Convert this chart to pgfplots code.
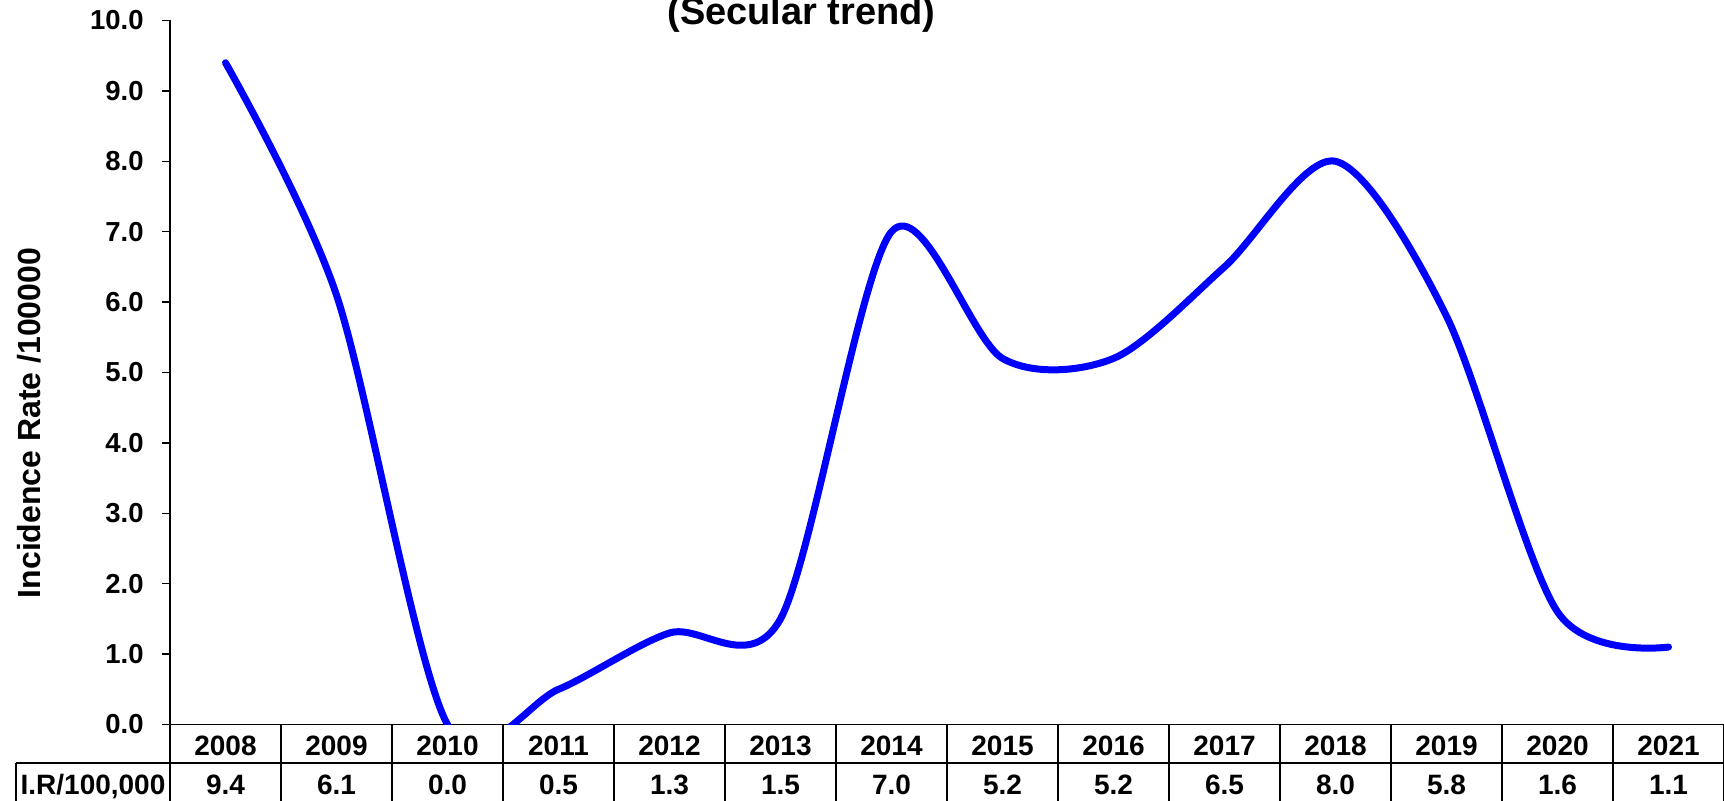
\documentclass[border=0pt]{standalone}
\usepackage{fontspec}
\setmainfont{Liberation Sans}
\usepackage{pgfplots}
\usepackage{pgfplotstable}
\pgfplotsset{compat=1.18}

% incidence rate per 100,000 by year
\pgfplotstableread{
idx year ir
0 2008 9.4
1 2009 6.1
2 2010 0.0
3 2011 0.5
4 2012 1.3
5 2013 1.5
6 2014 7.0
7 2015 5.2
8 2016 5.2
9 2017 6.5
10 2018 8.0
11 2019 5.8
12 2020 1.6
13 2021 1.1
}\irdata

\begin{document}
\begin{tikzpicture}[x=1pt,y=1pt]
\path[use as bounding box] (0,0) rectangle (862,-400.5);
\begin{axis}[
    at={(85pt,-362.25pt)}, anchor=south west,
    width=777pt, height=352pt, scale only axis,
    xmin=-0.5, xmax=13.5, ymin=0, ymax=10,
    axis lines*=left,
    axis line style={black, line width=0.65pt},
    tick align=outside, major tick length=4pt,
    tick style={black, line width=0.65pt},
    ytick={0,...,10},
    yticklabel style={/pgf/number format/fixed, /pgf/number format/fixed zerofill,
        /pgf/number format/precision=1, /pgf/number format/assume math mode=true,
        anchor=east, inner sep=0pt, xshift=-9pt},
    ticklabel style={font=\fontsize{13.75}{16}\selectfont\bfseries},
    xtick={0,...,13},
    xticklabels from table={\irdata}{year},
    xtick style={draw=none},
    xticklabel style={anchor=center, inner sep=0pt, yshift=-6.5pt, font=\fontsize{14}{16}\selectfont\bfseries},
    extra x ticks={0,...,13},
    extra x tick style={
        xticklabel={\pgfplotstablegetelem{\ticknum}{ir}\of\irdata\pgfplotsretval},
        xticklabel style={yshift=-19.75pt},
        tick style={draw=none}},
]
\addplot[color={rgb,255:red,0;green,0;blue,255}, line width=3.5pt, smooth, tension=0.5,
    line cap=round, line join=round] table[x=idx, y=ir] {\irdata};
\end{axis}

% data table grid
\foreach \k in {0,...,14}
    \draw[line width=0.75pt] (85+55.5*\k,-362.25) -- (85+55.5*\k,-401);
\draw[line width=0.75pt] (8,-381.5) -- (862,-381.5);
\draw[line width=0.75pt] (8,-381.5) -- (8,-401);
\node[font=\fontsize{14}{16}\selectfont\bfseries, inner sep=0pt, anchor=base] at (46.5,-397) {I.R/100,000};

\node[font=\fontsize{19}{22}\selectfont\bfseries, anchor=base] at (400.75,-12.5) {(Secular trend)};
\node[font=\fontsize{16}{19}\selectfont\bfseries, anchor=base, rotate=90] at (20,-211.5) {Incidence Rate /100000};
\end{tikzpicture}
\end{document}
